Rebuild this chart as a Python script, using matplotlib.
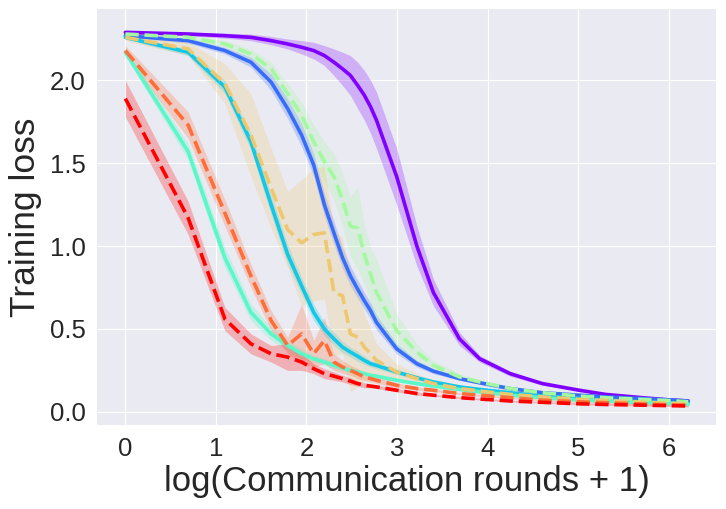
import numpy as np
import matplotlib
matplotlib.use('Agg')
import matplotlib.pyplot as plt

rounds = np.array([0, 1, 2, 3, 4, 5, 6, 7, 8, 9, 10, 11, 12, 13, 14, 15,
                   19, 24, 29, 39, 49, 69, 99, 149, 199, 299, 399, 499])

# mean training loss per run (8 runs, rainbow order)
loss_0 = [2.29, 2.28, 2.27, 2.26, 2.24, 2.22, 2.20, 2.18, 2.15, 2.11, 2.07, 2.03, 1.97, 1.91,
          1.84, 1.76, 1.42, 1.00, 0.72, 0.44, 0.32, 0.23, 0.17, 0.13, 0.105, 0.085, 0.072, 0.065]
loss_1 = [2.27, 2.24, 2.18, 2.11, 1.99, 1.83, 1.67, 1.49, 1.25, 1.08, 0.93, 0.82, 0.74, 0.67,
          0.61, 0.54, 0.38, 0.29, 0.245, 0.20, 0.175, 0.14, 0.115, 0.10, 0.09, 0.08, 0.072, 0.065]
loss_2 = [2.26, 2.17, 1.96, 1.63, 1.25, 0.95, 0.76, 0.60, 0.50, 0.44, 0.39, 0.36, 0.335, 0.31,
          0.29, 0.28, 0.24, 0.205, 0.18, 0.15, 0.135, 0.115, 0.095, 0.08, 0.07, 0.06, 0.055, 0.05]
loss_3 = [2.17, 1.57, 0.93, 0.60, 0.47, 0.40, 0.35, 0.32, 0.30, 0.28, 0.265, 0.25, 0.24, 0.23,
          0.22, 0.215, 0.19, 0.17, 0.155, 0.135, 0.12, 0.10, 0.085, 0.07, 0.065, 0.055, 0.05, 0.045]
loss_4 = [2.28, 2.26, 2.22, 2.16, 2.07, 1.92, 1.79, 1.63, 1.51, 1.42, 1.28, 1.12, 1.11, 0.95,
          0.83, 0.72, 0.49, 0.36, 0.28, 0.21, 0.18, 0.14, 0.115, 0.095, 0.085, 0.075, 0.068, 0.06]
loss_5 = [2.26, 2.19, 1.98, 1.67, 1.35, 1.10, 1.02, 1.07, 1.08, 0.72, 0.70, 0.47, 0.45, 0.39,
          0.35, 0.31, 0.24, 0.20, 0.17, 0.14, 0.125, 0.105, 0.09, 0.075, 0.068, 0.058, 0.052, 0.048]
loss_6 = [2.18, 1.73, 1.20, 0.82, 0.55, 0.40, 0.47, 0.35, 0.43, 0.30, 0.27, 0.25, 0.23, 0.21,
          0.20, 0.19, 0.16, 0.14, 0.13, 0.11, 0.10, 0.085, 0.07, 0.06, 0.055, 0.047, 0.042, 0.04]
loss_7 = [1.89, 1.17, 0.56, 0.41, 0.35, 0.33, 0.30, 0.26, 0.23, 0.215, 0.20, 0.185, 0.17, 0.16,
          0.155, 0.15, 0.13, 0.11, 0.10, 0.085, 0.077, 0.065, 0.057, 0.048, 0.044, 0.04, 0.037, 0.035]

# half width of the shaded band
spread_0 = [0.01, 0.01, 0.015, 0.02, 0.025, 0.03, 0.04, 0.05, 0.06, 0.08, 0.10, 0.12, 0.14, 0.15,
            0.16, 0.17, 0.17, 0.12, 0.08, 0.04, 0.02, 0.015, 0.01, 0.005, 0.005, 0.005, 0.005, 0.005]
spread_1 = [0.01, 0.015, 0.02, 0.03, 0.05, 0.06, 0.07, 0.07, 0.07, 0.07, 0.065, 0.06, 0.055, 0.05,
            0.05, 0.045, 0.03, 0.02, 0.015, 0.01, 0.01, 0.01, 0.005, 0.005, 0.005, 0.005, 0.005, 0.005]
spread_2 = [0.01, 0.02, 0.04, 0.05, 0.06, 0.06, 0.05, 0.05, 0.04, 0.04, 0.035, 0.03, 0.03, 0.025,
            0.02, 0.02, 0.015, 0.01, 0.01, 0.01, 0.005, 0.005, 0.005, 0.005, 0.005, 0.005, 0.005, 0.005]
spread_3 = [0.02, 0.05, 0.06, 0.05, 0.04, 0.03, 0.03, 0.02, 0.02, 0.02, 0.015, 0.015, 0.01, 0.01,
            0.01, 0.01, 0.01, 0.01, 0.005, 0.005, 0.005, 0.005, 0.005, 0.005, 0.005, 0.005, 0.005, 0.005]
spread_4 = [0.01, 0.01, 0.02, 0.03, 0.04, 0.06, 0.08, 0.10, 0.12, 0.14, 0.16, 0.18, 0.25, 0.18,
            0.16, 0.20, 0.10, 0.05, 0.03, 0.02, 0.015, 0.01, 0.005, 0.005, 0.005, 0.005, 0.005, 0.005]
spread_5 = [0.02, 0.04, 0.12, 0.25, 0.24, 0.23, 0.38, 0.40, 0.40, 0.38, 0.35, 0.35, 0.30, 0.20,
            0.15, 0.10, 0.05, 0.03, 0.02, 0.015, 0.01, 0.005, 0.005, 0.005, 0.005, 0.005, 0.005, 0.005]
spread_6 = [0.03, 0.08, 0.08, 0.07, 0.06, 0.05, 0.18, 0.08, 0.14, 0.05, 0.04, 0.03, 0.03, 0.02,
            0.02, 0.02, 0.015, 0.01, 0.01, 0.005, 0.005, 0.005, 0.005, 0.005, 0.005, 0.005, 0.005, 0.005]
spread_7 = [0.11, 0.10, 0.07, 0.06, 0.05, 0.08, 0.05, 0.03, 0.03, 0.025, 0.02, 0.02, 0.015, 0.015,
            0.01, 0.01, 0.01, 0.01, 0.005, 0.005, 0.005, 0.005, 0.005, 0.005, 0.005, 0.005, 0.005, 0.005]

losses = [loss_0, loss_1, loss_2, loss_3, loss_4, loss_5, loss_6, loss_7]
spreads = [spread_0, spread_1, spread_2, spread_3, spread_4, spread_5, spread_6, spread_7]
styles = ['-', '-', '-', '-', '--', '--', '--', '--']

plt.style.use('seaborn-v0_8-darkgrid')
plt.rcParams['font.family'] = ['Liberation Sans', 'DejaVu Sans']

fig = plt.figure(figsize=(7.26, 5.09), dpi=100)
ax = fig.add_axes([0.134, 0.165, 0.852, 0.817])

x = np.log(rounds + 1)
colors = plt.cm.rainbow(np.linspace(0, 1, len(losses)))

for loss, spread, style, c in zip(losses, spreads, styles, colors):
    loss = np.array(loss)
    spread = np.array(spread)
    ax.fill_between(x, loss - spread, loss + spread, color=c, alpha=0.25, linewidth=0)
    ax.plot(x, loss, style, color=c, linewidth=2.6)

ax.set_xlim(-0.31, 6.52)
ax.set_ylim(-0.08, 2.43)
ax.set_xticks([0, 1, 2, 3, 4, 5, 6])
ax.set_yticks([0.0, 0.5, 1.0, 1.5, 2.0])
ax.tick_params(labelsize=18.5, colors='#262626', pad=8.5)
ax.set_xlabel('log(Communication rounds + 1)', fontsize=25, color='#262626')
ax.set_ylabel('Training loss', fontsize=25.5, color='#262626')
ax.xaxis.set_label_coords(0.5, -0.095)
ax.yaxis.set_label_coords(-0.089, 0.5)

fig.savefig('out.png', dpi=100)
